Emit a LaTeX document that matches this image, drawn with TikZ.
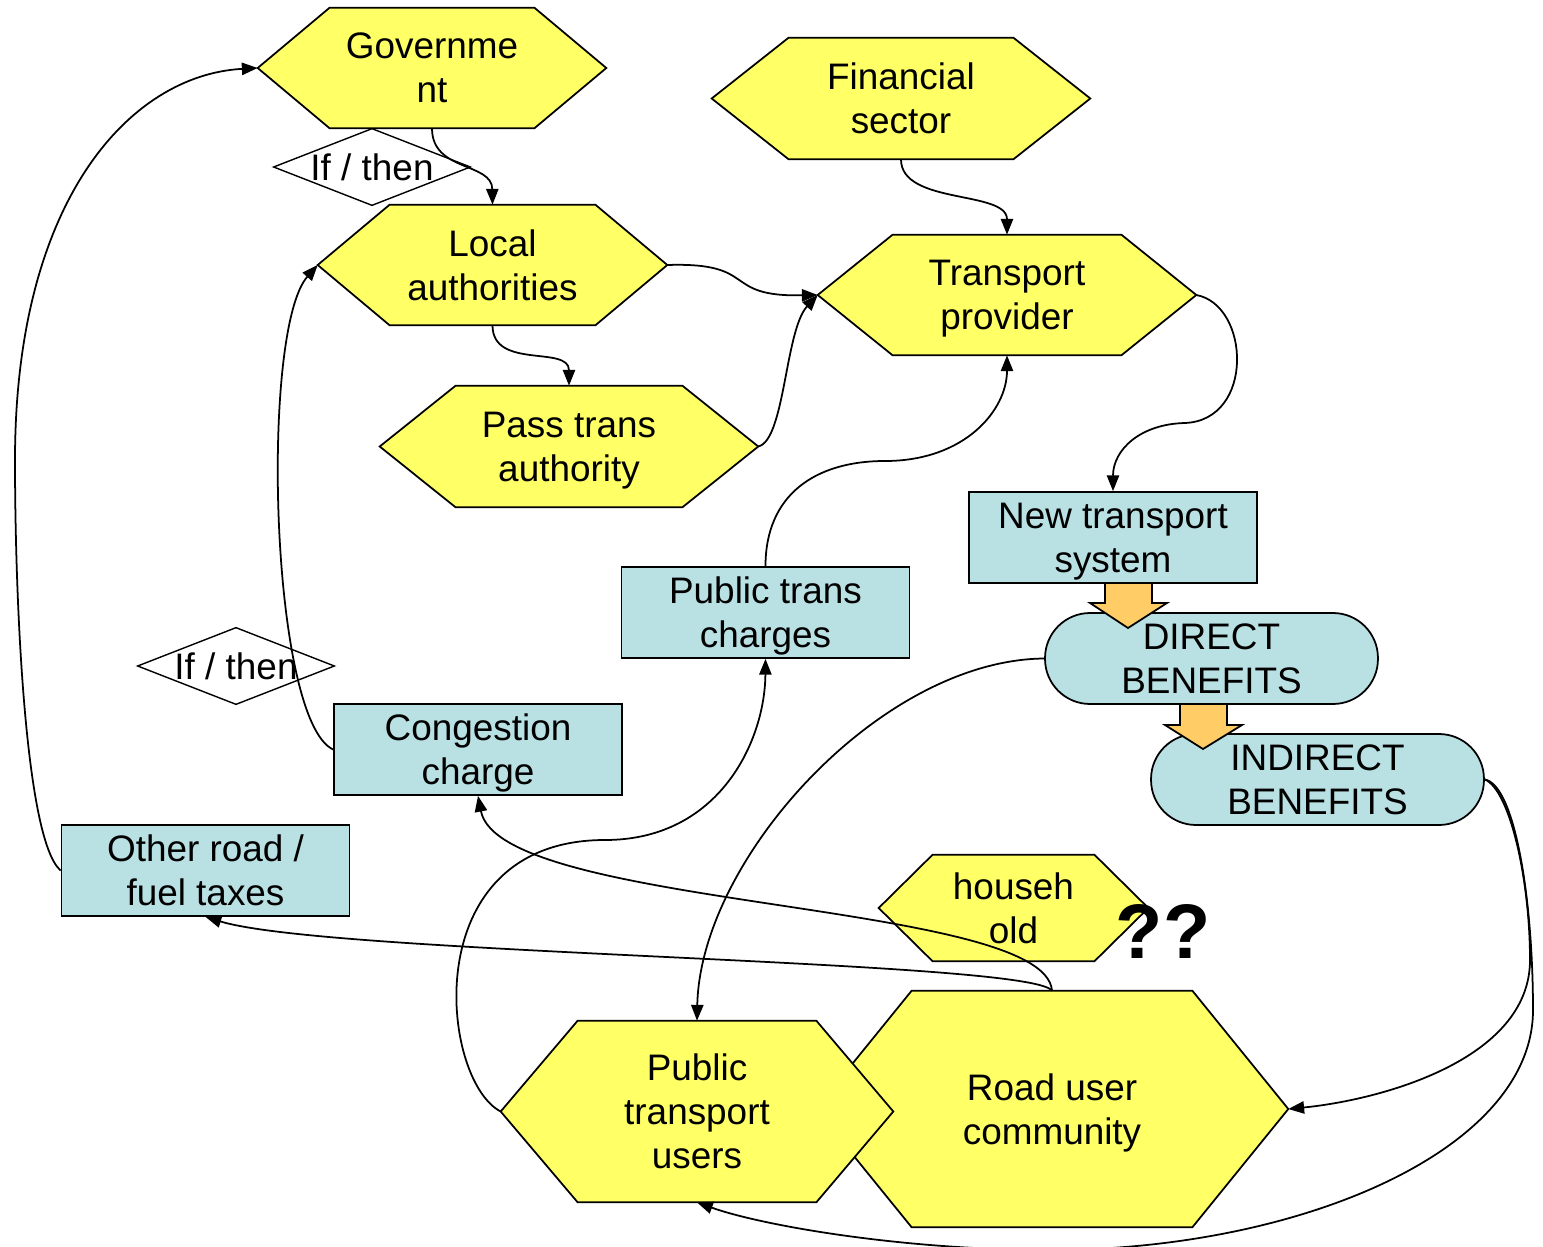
\documentclass[tikz,border=0pt]{standalone}
\usepackage{fontspec}
\setmainfont{Liberation Sans}
\usetikzlibrary{arrows.meta, backgrounds}
\definecolor{hexyellow}{HTML}{FFFF66}
\definecolor{boxblue}{HTML}{B9E0E3}
\definecolor{arroworange}{HTML}{FFCC66}

\begin{document}
\begin{tikzpicture}[
        x=0.02cm, y=-0.02cm,
        font=\fontsize{21}{25}\selectfont,
        >={Triangle[length=9pt,width=7pt]},
        every node/.style={align=center, inner sep=1pt, text depth=0pt},
        actor/.style 2 args={minimum width=#1, minimum height=#2},
        hexfill/.style={draw=black, fill=hexyellow, line width=1pt},
        iffill/.style={draw=black, fill=white, line width=0.8pt},
        hexpath/.style 2 args={insert path={(#1.west) -- ([xshift=#2]#1.north west)
            -- ([xshift=-#2]#1.north east) -- (#1.east) -- ([xshift=-#2]#1.south east)
            -- ([xshift=#2]#1.south west) -- cycle}},
        ifpath/.style={insert path={(#1.west) -- (#1.north) -- (#1.east) -- (#1.south) -- cycle}},
        charge/.style={draw=black, fill=boxblue, line width=1pt,
                       minimum width=5.76cm, minimum height=1.82cm},
        benefit/.style={charge, rounded corners=0.9cm, minimum width=6.66cm},
        blockarrow/.style={draw=black, fill=arroworange, line width=1pt},
        flow/.style={draw=black, line width=1pt, ->}
    ]
      \useasboundingbox (0,0) rectangle (1543,1247);

      % --- Actors (hexagons) ---
      \node[actor={6.96cm}{2.4cm}] (gov) at (432,68) {Governme\\nt};
      \node[actor={7.56cm}{2.42cm}] (fin) at (901,98.5) {Financial\\sector};
      \node[actor={6.98cm}{2.4cm}] (loc) at (492.5,265) {Local\\authorities};
      \node[actor={7.56cm}{2.4cm}] (tp) at (1007,295) {Transport\\provider};
      \node[actor={7.56cm}{2.42cm}] (pta) at (569,446.5) {Pass trans\\authority};
      \node[actor={5.38cm}{2.12cm}] (hh) at (1013.5,908) {househ\\old};
      \node[actor={9.44cm}{4.72cm}] (rdu) at (1052,1109) {Road user\\community};
      \node[actor={7.84cm}{3.62cm}] (ptu) at (697,1111.5) {Public\\transport\\users};

      % --- If / then tests ---
      \node[actor={3.92cm}{1.52cm}] (if1) at (372,167) {If / then};
      \node[actor={3.92cm}{1.52cm}] (if2) at (236,666) {If / then};

      % --- Charges, systems and benefits ---
      \node[charge] (nts) at (1113,537.5) {New transport\\system};
      \node[charge] (ptc) at (765.5,612.5) {Public trans\\charges};
      \node[charge] (cc) at (478,749.5) {Congestion\\charge};
      \node[charge] (ort) at (205.5,870.5) {Other road /\\fuel taxes};
      \node[benefit] (dir) at (1211.5,658.5) {DIRECT\\BENEFITS};
      \node[benefit] (ind) at (1317.5,779.5) {INDIRECT\\BENEFITS};

      % Block arrows between benefits
      \path[blockarrow] (1105,583) -- (1152,583) -- (1152,603) -- (1167,603)
            -- (1128,628) -- (1090,603) -- (1105,603) -- cycle;
      \path[blockarrow] (1180,704) -- (1227,704) -- (1227,725) -- (1242,725)
            -- (1203,749) -- (1165,725) -- (1180,725) -- cycle;

      \node[font=\fontsize{44}{50}\selectfont\bfseries] (qq) at (1163,932) {??};

      % Outlines behind the texts
      \begin{pgfonlayer}{background}
        \path[hexfill, hexpath={gov}{1.44cm}];
        \path[hexfill, hexpath={fin}{1.54cm}];
        \path[hexfill, hexpath={loc}{1.44cm}];
        \path[hexfill, hexpath={tp}{1.5cm}];
        \path[hexfill, hexpath={pta}{1.52cm}];
        \path[hexfill, hexpath={hh}{1.08cm}];
        \path[hexfill, hexpath={rdu}{1.92cm}];
        \path[hexfill, hexpath={ptu}{1.54cm}];
        \path[iffill, ifpath=if1];
        \path[iffill, ifpath=if2];
      \end{pgfonlayer}

      % --- Flows ---
      \draw[flow] (gov.south) .. controls (432,172) and (492,162) .. (loc.north);
      \draw[flow] (fin.south) .. controls (901,205) and (1007,190) .. (tp.north);
      \draw[flow] (loc.south) .. controls (492.5,370) and (569,345) .. (pta.north);
      \draw[flow] (loc.east) .. controls (760,262) and (720,297) .. (tp.west);
      \draw[flow] (pta.east) .. controls (785,440) and (785,330) .. (tp.west);
      \draw[flow] (tp.east) .. controls (1250,305) and (1255,420) .. (1185,423)
            .. controls (1140,424) and (1113,450) .. (nts.north);
      \draw[flow] (ptc.north) .. controls (765.5,495) and (815,461) .. (885,461)
            .. controls (965,461) and (1007,410) .. (tp.south);
      \draw[flow] (cc.west) .. controls (270,720) and (260,330) .. (loc.west);
      \draw[flow] (ort.west) .. controls (25,840) and (15,600) .. (15,460)
            .. controls (15,200) and (130,75) .. (gov.west);
      \draw[flow] (rdu.north) .. controls (1045,900) and (500,910) .. (cc.south);
      \draw[flow] (rdu.north) .. controls (1030,960) and (330,955) .. (ort.south);
      \draw[flow] (dir.west) .. controls (880,660) and (700,860) .. (ptu.north);
      \draw[flow] (ptu.west) .. controls (440,1080) and (415,840) .. (605,840)
            .. controls (720,840) and (765,740) .. (ptc.south);
      \draw[flow] (ind.east) .. controls (1510,790) and (1530,880) .. (1530,960)
            .. controls (1530,1060) and (1380,1100) .. (rdu.east);
      \draw[flow] (ind.east) .. controls (1515,785) and (1533,900) .. (1533,1010)
            .. controls (1533,1150) and (1300,1250) .. (1050,1250)
            .. controls (900,1250) and (760,1225) .. (ptu.south);
    \end{tikzpicture}
\end{document}
